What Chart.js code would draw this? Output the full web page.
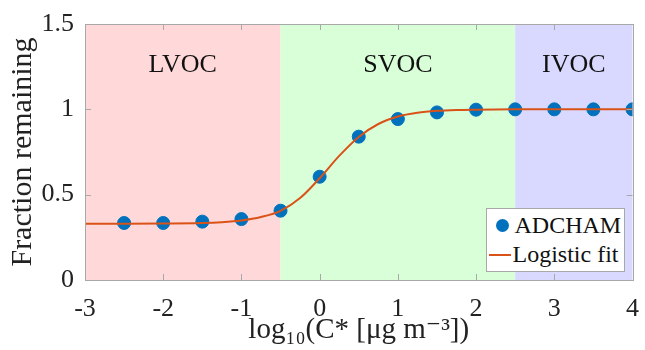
<!DOCTYPE html>
<html lang="en">
<head>
  <meta charset="UTF-8">
  <title>Fraction remaining</title>
  <script src="https://cdn.jsdelivr.net/npm/chart.js"></script>
  <style>
    body { margin: 0; background: #fff; }
    #wrap { position: relative; width: 645px; height: 350px; }
    #legend {
      position: absolute; background: #fff; border: 1px solid #a8a8a8;
      font-family: 'Liberation Serif', 'DejaVu Serif', serif; font-size: 24px; color: #111;
      padding: 2px 3px 2px 2px; line-height: 29px;
    }
    #legend div { display: flex; align-items: center; white-space: nowrap; }
    .dot { width: 13px; height: 13px; border-radius: 50%; background: #0072BD; margin: 0 6px 0 7px; }
    .ln { width: 22px; height: 2px; background: #D95319; margin-right: 2px; }
  </style>
</head>
<body>
  <div id="wrap">
    <canvas id="chart" width="645" height="350"></canvas>
    <div id="legend">
      <div><span class="dot"></span>ADCHAM</div>
      <div><span class="ln"></span>Logistic fit</div>
    </div>
  </div>

  <script>
    // ADCHAM points
    const logC = [-2.5, -2, -1.5, -1, -0.5, 0, 0.5, 1, 1.5, 2, 2.5, 3, 3.5, 4];
    const fracRemaining = [0.334, 0.334, 0.342, 0.357, 0.406, 0.605, 0.840, 0.943, 0.982, 0.998, 1.0, 1.0, 1.0, 1.0];

    // logistic fit curve
    const fitLogC = [-3, -2.5, -2, -1.5, -1.25, -1, -0.75, -0.5, -0.25, 0, 0.25, 0.5, 0.75, 1, 1.25, 1.5, 1.75, 2, 2.5, 3, 3.5, 4];
    const fitFrac = [0.330, 0.330, 0.331, 0.334, 0.339, 0.349, 0.369, 0.405, 0.480, 0.596, 0.727, 0.838, 0.914, 0.958, 0.980, 0.991, 0.996, 0.998, 1.0, 1.0, 1.0, 1.0];

    // volatility classes
    const classNames = ['LVOC', 'SVOC', 'IVOC'];
    const classFrom = [-3, -0.5, 2.5];
    const classTo = [-0.5, 2.5, 4];
    const classLabelX = [-1.75, 1, 3.25];
    const classLabelY = 1.26;

    const xTicks = [-3, -2, -1, 0, 1, 2, 3, 4];
    const yTicks = [0, 0.5, 1, 1.5];

    const classColors = ['#FFD9D9', '#D9FFD9', '#D9D9FF'];
    const serif = "'Liberation Serif', 'DejaVu Serif', serif";
    Chart.defaults.font.family = serif;

    const regionsPlugin = {
      id: 'regions',
      beforeDatasetsDraw(chart) {
        const { ctx, chartArea, scales } = chart;
        ctx.save();
        classNames.forEach((name, i) => {
          const x0 = scales.x.getPixelForValue(classFrom[i]);
          const x1 = scales.x.getPixelForValue(classTo[i]);
          ctx.fillStyle = classColors[i];
          ctx.fillRect(x0, chartArea.top, x1 - x0, chartArea.bottom - chartArea.top);
        });
        ctx.fillStyle = '#111';
        ctx.font = '26px ' + serif;
        ctx.textAlign = 'center';
        ctx.textBaseline = 'middle';
        classNames.forEach((name, i) => {
          ctx.fillText(name, scales.x.getPixelForValue(classLabelX[i]), scales.y.getPixelForValue(classLabelY));
        });
        ctx.restore();
      },
      afterDatasetsDraw(chart) {
        const { ctx, chartArea: a, scales } = chart;
        ctx.save();
        ctx.strokeStyle = '#a8a8a8';
        ctx.lineWidth = 1;
        ctx.beginPath();
        xTicks.forEach(v => {
          const x = Math.round(scales.x.getPixelForValue(v)) + 0.5;
          ctx.moveTo(x, a.bottom); ctx.lineTo(x, a.bottom - 6);
          ctx.moveTo(x, a.top); ctx.lineTo(x, a.top + 6);
        });
        yTicks.forEach(v => {
          const y = Math.round(scales.y.getPixelForValue(v)) + 0.5;
          ctx.moveTo(a.left, y); ctx.lineTo(a.left + 6, y);
          ctx.moveTo(a.right, y); ctx.lineTo(a.right - 6, y);
        });
        ctx.stroke();
        ctx.strokeRect(Math.round(a.left) + 0.5, Math.round(a.top) + 0.5,
          Math.round(a.right - a.left), Math.round(a.bottom - a.top));
        ctx.restore();
      }
    };

    const chart = new Chart(document.getElementById('chart'), {
      type: 'scatter',
      data: {
        datasets: [
          {
            label: 'Logistic fit',
            data: fitLogC.map((x, i) => ({ x: x, y: fitFrac[i] })),
            showLine: true,
            borderColor: '#D95319',
            borderWidth: 2,
            pointRadius: 0,
            cubicInterpolationMode: 'monotone',
            order: 0
          },
          {
            label: 'ADCHAM',
            data: logC.map((x, i) => ({ x: x, y: fracRemaining[i] })),
            backgroundColor: '#0072BD',
            borderColor: '#0072BD',
            pointRadius: 6.5,
            order: 1
          }
        ]
      },
      options: {
        responsive: false,
        animation: false,
        layout: { padding: { left: 0, right: 9, top: 24, bottom: 0 } },
        plugins: { legend: { display: false }, tooltip: { enabled: false } },
        scales: {
          x: {
            type: 'linear', min: -3, max: 4,
            afterFit(s) { s.height = 70; },
            afterBuildTicks(s) { s.ticks = xTicks.map(v => ({ value: v })); },
            grid: { display: false },
            border: { display: false },
            ticks: { color: '#222', padding: 6, font: { family: serif, size: 26 }, callback: v => String(v) },
            title: {
              display: true, text: 'log\u2081\u2080(C* [\u03BCg m\u207B\u00B3])', color: '#222',
              padding: { top: 0, bottom: 2 }, font: { family: serif, size: 29 }
            }
          },
          y: {
            type: 'linear', min: 0, max: 1.5,
            afterFit(s) { s.width = 85; },
            afterBuildTicks(s) { s.ticks = yTicks.map(v => ({ value: v })); },
            grid: { display: false },
            border: { display: false },
            ticks: { color: '#222', padding: 3, font: { family: serif, size: 26 }, callback: v => String(v) },
            title: {
              display: true, text: 'Fraction remaining', color: '#222',
              padding: { top: 5, bottom: 0 }, font: { family: serif, size: 30 }
            }
          }
        }
      },
      plugins: [regionsPlugin]
    });

    // legend box in the lower right corner of the plot area
    const legend = document.getElementById('legend');
    const area = chart.chartArea;
    legend.style.left = (area.right - 7 - legend.offsetWidth) + 'px';
    legend.style.top = (area.bottom - 8 - legend.offsetHeight) + 'px';
  </script>
</body>
</html>
